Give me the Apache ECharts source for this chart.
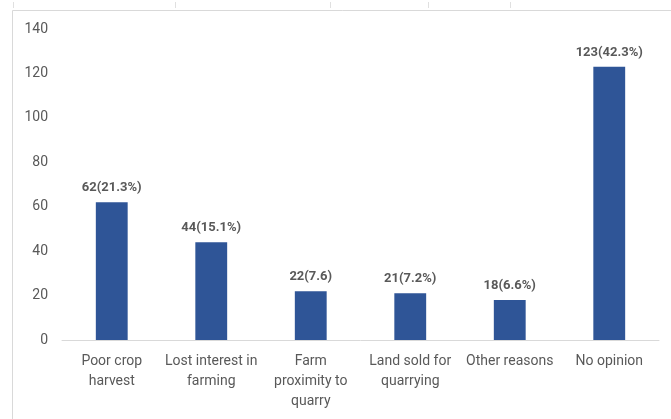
<!DOCTYPE html>
<html><head><meta charset="utf-8">
<script src="https://cdn.jsdelivr.net/npm/echarts@6/dist/echarts.min.js"></script>
<style>html,body{margin:0;padding:0;background:#fff}#c{width:671px;height:419px}</style>
</head><body><div id="c"></div>
<script>
var categories = ["Poor crop\nharvest", "Lost interest in\nfarming", "Farm\nproximity to\nquarry", "Land sold for\nquarrying", "Other reasons", "No opinion"];
var values = [62, 44, 22, 21, 18, 123];
var valueLabels = ["62(21.3%)", "44(15.1%)", "22(7.6)", "21(7.2%)", "18(6.6%)", "123(42.3%)"];
var yTicks = [0, 20, 40, 60, 80, 100, 120, 140];

var font = "'Roboto', sans-serif";
var chart = echarts.init(document.getElementById('c'), null, {renderer: 'canvas'});
chart.setOption({
  animation: false,
  backgroundColor: '#fff',
  graphic: [
    {type: 'rect', shape: {x: 12.5, y: 10.5, width: 700, height: 420}, style: {fill: 'none', stroke: '#d9d9d9', lineWidth: 1}, silent: true},
    {type: 'line', shape: {x1: 13.5, y1: 2, x2: 13.5, y2: 8}, style: {stroke: '#e0e0e0'}},
    {type: 'line', shape: {x1: 175.5, y1: 2, x2: 175.5, y2: 8}, style: {stroke: '#e0e0e0'}},
    {type: 'line', shape: {x1: 330.5, y1: 2, x2: 330.5, y2: 8}, style: {stroke: '#e0e0e0'}},
    {type: 'line', shape: {x1: 428.5, y1: 2, x2: 428.5, y2: 8}, style: {stroke: '#e0e0e0'}},
    {type: 'line', shape: {x1: 510.5, y1: 2, x2: 510.5, y2: 8}, style: {stroke: '#e0e0e0'}}
  ],
  grid: {left: 62, right: 12, top: 29, bottom: 79, containLabel: false},
  xAxis: {
    type: 'category',
    data: categories,
    axisLine: {show: true, lineStyle: {color: '#d9d9d9', width: 1}},
    axisTick: {show: false},
    axisLabel: {color: '#595959', fontSize: 14, fontFamily: font, lineHeight: 20, margin: 11, interval: 0}
  },
  yAxis: {
    type: 'value',
    min: 0, max: 140, interval: 20,
    axisLine: {show: false},
    axisTick: {show: false},
    splitLine: {show: false},
    axisLabel: {color: '#595959', fontSize: 14, fontFamily: font, margin: 14,
      formatter: function (v) { return yTicks.indexOf(v) >= 0 ? String(v) : ''; }}
  },
  series: [{
    type: 'bar',
    data: values,
    barWidth: '32%',
    itemStyle: {color: '#2F5597'},
    label: {
      show: true, position: 'top', distance: 8,
      color: '#595959', fontSize: 13, fontWeight: 'bold', fontFamily: font,
      formatter: function (p) { return valueLabels[p.dataIndex]; }
    }
  }]
});
</script></body></html>
